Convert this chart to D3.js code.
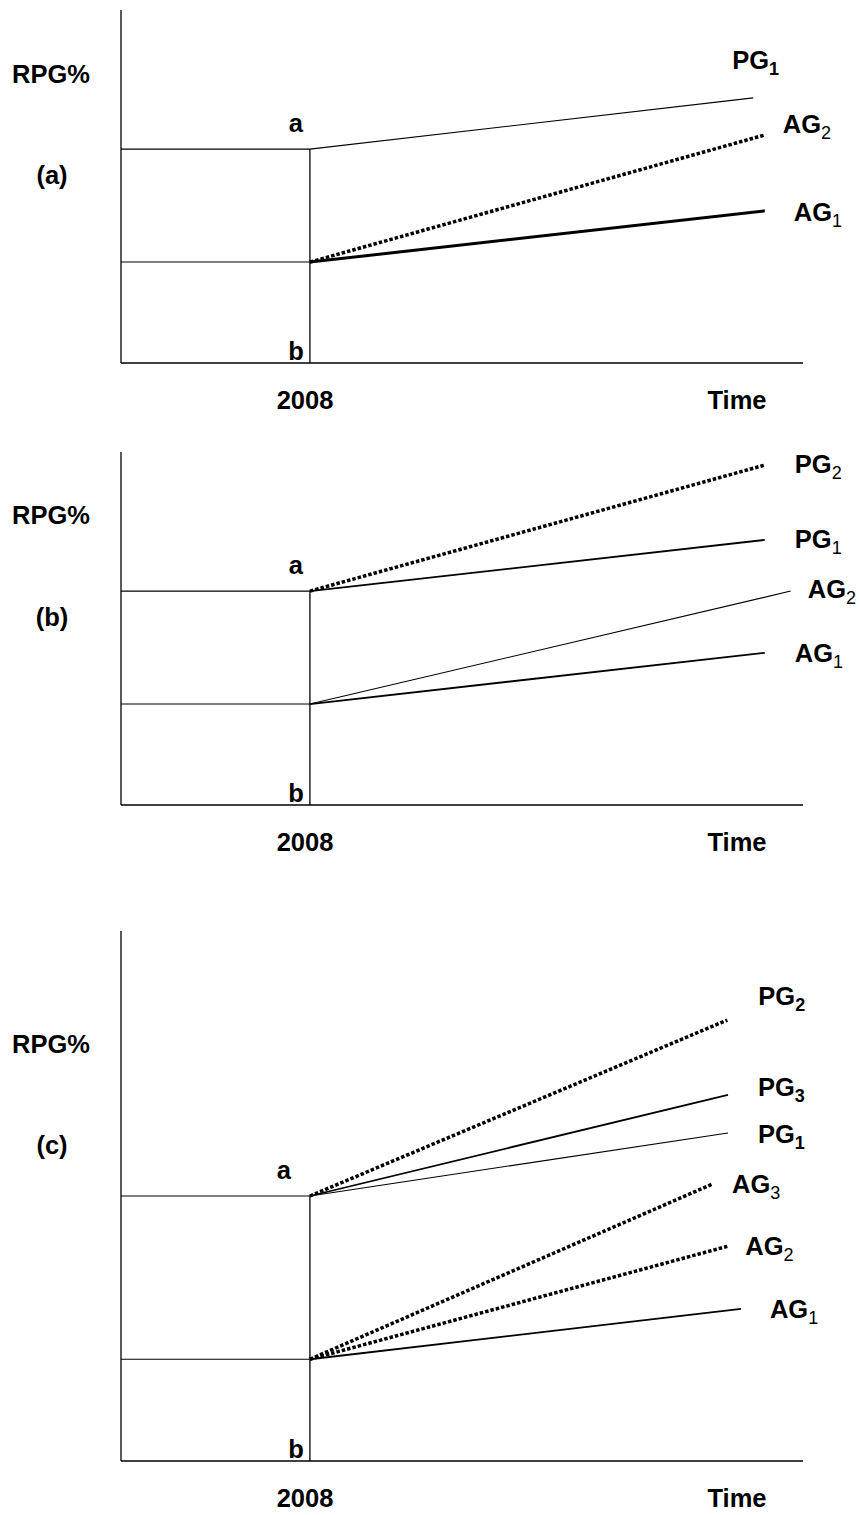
<!DOCTYPE html>
<html>
<head>
<meta charset="utf-8">
<script src="https://cdn.jsdelivr.net/npm/d3@7"></script>
<style>
body { margin: 0; background: #fff; }
text { font-family: Arial, "Liberation Sans", sans-serif; font-weight: bold; fill: #000; }
</style>
</head>
<body>
<div id="chart"></div>
<script>
// values in abstract units: time 0-100 along x, RPG% 0-100 along y
var panelNames = ["(a)", "(b)", "(c)"];
var yLabel = "RPG%";
var xLabel = "Time";
var yearLabel = "2008";
var yearX = 27.7;
var levelA = [60.6, 60.6, 50.0];
var levelB = [28.6, 28.6, 19.2];

var namesA = [["PG", "1"], ["AG", "2"], ["AG", "1"]];
var fromA = ["a", "b", "b"];
var endXA = [92.7, 94.4, 94.4];
var endYA = [75.1, 64.6, 43.1];

var namesB = [["PG", "2"], ["PG", "1"], ["AG", "2"], ["AG", "1"]];
var fromB = ["a", "a", "b", "b"];
var endXB = [94.4, 94.4, 98.2, 94.4];
var endYB = [96.3, 75.1, 60.6, 43.1];

var namesC = [["PG", "2"], ["PG", "3"], ["PG", "1"], ["AG", "3"], ["AG", "2"], ["AG", "1"]];
var fromC = ["a", "a", "a", "b", "b", "b"];
var endXC = [88.9, 89.0, 89.0, 86.8, 88.9, 90.9];
var endYC = [83.2, 69.1, 61.9, 52.3, 40.5, 28.7];

function init(){
    var w = 861, h = 1515;
    var svg = d3.select("#chart").append("svg")
                .attr("width", w)
                .attr("height", h);

    var x = d3.scaleLinear().domain([0, 100]).range([121, 803]);

    // layout and styles for each panel
    var panels = [
        {top: 10, bottom: 363, names: namesA, from: fromA, ex: endXA, ey: endYA,
         kind: ["thin", "dot", "thick"], subBold: [true, false, false],
         off: [[-21, -29], [18, -2], [29, 10]], aDx: 0, rpgY: 73, nameY: 184},
        {top: 452, bottom: 805, names: namesB, from: fromB, ex: endXB, ey: endYB,
         kind: ["dot", "mid", "thin", "mid"], subBold: [false, false, false, false],
         off: [[30, 8], [30, 8], [17, 7], [30, 9]], aDx: 0, rpgY: 72, nameY: 626},
        {top: 931, bottom: 1461, names: namesC, from: fromC, ex: endXC, ey: endYC,
         kind: ["dot", "mid", "thin", "dot", "dot", "mid"], subBold: [true, true, true, false, false, false],
         off: [[31, -15], [30, 1], [30, 10], [19, 9], [18, 9], [29, 9]], aDx: -12, rpgY: 122, nameY: 1154}
    ];
    var widths = {thin: 1.1, mid: 1.8, thick: 3, dot: 3.5};

    panels.forEach(function(p, i){
        var y = d3.scaleLinear().domain([0, 100]).range([p.bottom, p.top]);
        var g = svg.append("g");

        // axes
        g.append("line").attr("x1", x(0)).attr("x2", x(0)).attr("y1", y(100)).attr("y2", y(0))
            .attr("stroke", "#000").attr("stroke-width", 1.3);
        g.append("line").attr("x1", x(0)).attr("x2", x(100)).attr("y1", y(0)).attr("y2", y(0))
            .attr("stroke", "#000").attr("stroke-width", 1.3);

        // 2008 marker and a / b levels
        g.append("line").attr("x1", x(yearX)).attr("x2", x(yearX)).attr("y1", y(levelA[i])).attr("y2", y(0))
            .attr("stroke", "#000").attr("stroke-width", 1.3);
        [levelA[i], levelB[i]].forEach(function(v){
            g.append("line").attr("x1", x(0)).attr("x2", x(yearX)).attr("y1", y(v)).attr("y2", y(v))
                .attr("stroke", "#000").attr("stroke-width", 1.1);
        });

        // growth paths
        var line = d3.line().x(function(d){ return x(d[0]); }).y(function(d){ return y(d[1]); });
        p.names.forEach(function(n, j){
            var start = p.from[j] == "a" ? levelA[i] : levelB[i];
            var pts = [[yearX, start], [p.ex[j], p.ey[j]]];
            var k = p.kind[j];
            g.append("path").attr("d", line(pts))
                .attr("fill", "none")
                .attr("stroke", "#000")
                .attr("stroke-width", widths[k])
                .attr("stroke-dasharray", k == "dot" ? "3.5,2" : null);

            var t = g.append("text")
                .attr("x", x(p.ex[j]) + p.off[j][0])
                .attr("y", y(p.ey[j]) + p.off[j][1])
                .attr("font-size", 25.5);
            t.append("tspan").text(n[0]);
            t.append("tspan").text(n[1]).attr("dy", 6).attr("font-size", 18)
                .attr("font-weight", p.subBold[j] ? "bold" : "normal");
        });

        // texts
        g.append("text").attr("x", 12).attr("y", y(100) + p.rpgY).attr("font-size", 25.5).text(yLabel);
        g.append("text").attr("x", 52).attr("y", p.nameY).attr("font-size", 25.5)
            .attr("text-anchor", "middle").text(panelNames[i]);
        g.append("text").attr("x", x(yearX) - 7 + p.aDx).attr("y", y(levelA[i]) - 17)
            .attr("font-size", 25.5).attr("text-anchor", "end").text("a");
        g.append("text").attr("x", x(yearX) - 6).attr("y", y(0) - 3)
            .attr("font-size", 25.5).attr("text-anchor", "end").text("b");
        g.append("text").attr("x", 305).attr("y", y(0) + 46).attr("font-size", 25.5)
            .attr("text-anchor", "middle").text(yearLabel);
        g.append("text").attr("x", 737).attr("y", y(0) + 46).attr("font-size", 25.5)
            .attr("text-anchor", "middle").text(xLabel);
    });
}
window.onload = init;
</script>
</body>
</html>
